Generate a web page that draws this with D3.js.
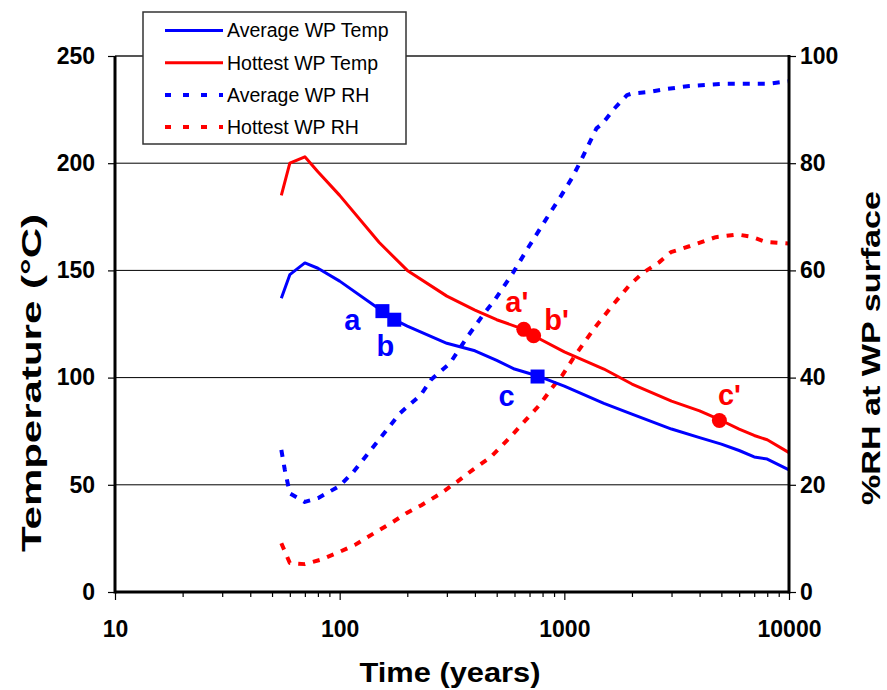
<!DOCTYPE html>
<html>
<head>
<meta charset="utf-8">
<script src="https://cdn.jsdelivr.net/npm/d3@7"></script>
<style>
  body { margin: 0; background: #fff; }
  svg { display: block; font-family: 'Liberation Sans', Arial, sans-serif; }
</style>
</head>
<body>
<div id="chart"></div>
<script>
// Series (years, degC / %RH).
const avgTempYears = [55, 60, 70, 80, 100, 150, 175, 200, 300, 400, 500, 600, 750, 1000, 1500, 2000, 3000, 4000, 5000, 6000, 7000, 8000, 10000];
const avgTemp = [137, 148, 153.5, 151, 145, 132, 127, 124, 116, 112.5, 108, 104, 101, 96, 88, 83, 76, 72, 69, 66, 63, 62, 57];

const hotTempYears = [55, 60, 70, 80, 100, 150, 200, 300, 400, 500, 660, 730, 1000, 1500, 2000, 3000, 4000, 5000, 6000, 7000, 8000, 10000];
const hotTemp = [185, 200, 203, 196, 185, 163, 150, 138, 131.5, 127, 122.5, 119.5, 112, 104, 97, 89, 84.5, 80, 76, 73, 71, 65];

const avgRhYears = [55, 57, 60, 70, 80, 100, 115, 145, 185, 230, 255, 310, 370, 440, 490, 590, 680, 860, 970, 1080, 1180, 1270, 1390, 1480, 1670, 1900, 2000, 2400, 2800, 3600, 5000, 6600, 8000, 10000];
const avgRh = [26.5, 22.8, 18.4, 16.8, 17.5, 19.8, 22.4, 27.7, 33.3, 36.8, 39.6, 42.7, 47.6, 52, 54.5, 59.5, 63.8, 70.6, 74, 77.2, 80.3, 83.1, 86.5, 87.4, 90.2, 92.7, 93, 93.3, 93.8, 94.4, 94.8, 94.8, 94.8, 95.3];

const hotRhYears = [55, 60, 70, 82, 100, 117, 140, 173, 198, 231, 282, 334, 391, 471, 566, 674, 776, 886, 982, 1107, 1360, 1640, 1945, 2230, 2640, 2980, 3600, 4720, 5900, 6760, 7900, 10000];
const hotRh = [9.1, 5.4, 5.2, 6.0, 7.5, 8.8, 10.8, 13.1, 14.7, 16.2, 18.4, 20.6, 22.8, 25.2, 28.6, 32.1, 34.9, 38.2, 40.5, 43.9, 49.2, 53.5, 57.2, 59.5, 61.5, 63.4, 64.5, 66.2, 66.7, 66.3, 65.3, 65];

// Labelled points on the temperature curves.
const avgPointYears = [155, 175, 760];
const avgPointTemp = [131, 127, 100.5];
const avgPointLabels = ['a', 'b', 'c'];

const hotPointYears = [660, 730, 4900];
const hotPointTemp = [122.5, 119.5, 80];
const hotPointLabels = ["a'", "b'", "c'"];

const seriesNames = ['Average WP Temp', 'Hottest WP Temp', 'Average WP RH', 'Hottest WP RH'];
const tempTicks = [0, 50, 100, 150, 200, 250];
const rhTicks = [0, 20, 40, 60, 80, 100];
const yearTicks = [10, 100, 1000, 10000];


const width = 887;
const height = 690;
const plot = { left: 115, right: 789, top: 56, bottom: 592 };

const BLUE = '#0000ff';
const RED = '#ff0000';

const svg = d3.select('#chart')
  .append('svg')
    .attr('width', width)
    .attr('height', height);

const x = d3.scaleLog()
  .domain([10, 10000])
  .range([plot.left, plot.right]);

const yTemp = d3.scaleLinear()
  .domain([0, 250])
  .range([plot.bottom, plot.top]);

const yRh = d3.scaleLinear()
  .domain([0, 100])
  .range([plot.bottom, plot.top]);

// Gridlines (shared by both y axes)
svg.append('g')
  .selectAll('line')
  .data(tempTicks.filter(d => d > 0 && d < 250))
  .enter()
  .append('line')
    .attr('x1', plot.left)
    .attr('x2', plot.right)
    .attr('y1', d => yTemp(d))
    .attr('y2', d => yTemp(d))
    .attr('stroke', '#000')
    .attr('stroke-width', 1);

function zipSeries(xs, ys) {
  return xs.map((t, i) => [t, ys[i]]);
}

function drawSeries(points, yScale, color, dashed) {
  const line = d3.line()
    .x(d => x(d[0]))
    .y(d => yScale(d[1]));

  svg.append('path')
    .datum(points)
    .attr('d', line)
    .attr('fill', 'none')
    .attr('stroke', color)
    .attr('stroke-width', dashed ? 4 : 3)
    .attr('stroke-linejoin', 'round')
    .attr('stroke-dasharray', dashed ? '7,8' : null);
}

drawSeries(zipSeries(avgRhYears, avgRh), yRh, BLUE, true);
drawSeries(zipSeries(hotRhYears, hotRh), yRh, RED, true);
drawSeries(zipSeries(avgTempYears, avgTemp), yTemp, BLUE, false);
drawSeries(zipSeries(hotTempYears, hotTemp), yTemp, RED, false);

// Point markers and their letters
const avgPoints = avgPointYears.map((t, i) => ({ t, v: avgPointTemp[i], label: avgPointLabels[i] }));
const hotPoints = hotPointYears.map((t, i) => ({ t, v: hotPointTemp[i], label: hotPointLabels[i] }));

svg.append('g')
  .selectAll('rect')
  .data(avgPoints)
  .enter()
  .append('rect')
    .attr('x', d => x(d.t) - 7)
    .attr('y', d => yTemp(d.v) - 7)
    .attr('width', 14)
    .attr('height', 14)
    .attr('fill', BLUE);

svg.append('g')
  .selectAll('circle')
  .data(hotPoints)
  .enter()
  .append('circle')
    .attr('cx', d => x(d.t))
    .attr('cy', d => yTemp(d.v))
    .attr('r', 7.5)
    .attr('fill', RED);

// label offsets from the marker centre: [dx, dy of baseline]
const avgLabelOffsets = [[-30, 19], [-9, 36], [-31, 29]];
const hotLabelOffsets = [[-7, -17], [23, -6], [10, -15]];

function drawPointLabels(points, offsets, color) {
  svg.append('g')
    .selectAll('text')
    .data(points)
    .enter()
    .append('text')
      .attr('x', (d, i) => x(d.t) + offsets[i][0])
      .attr('y', (d, i) => yTemp(d.v) + offsets[i][1])
      .attr('text-anchor', 'middle')
      .attr('font-size', '29px')
      .attr('font-weight', 'bold')
      .attr('fill', color)
      .text(d => d.label);
}

drawPointLabels(avgPoints, avgLabelOffsets, BLUE);
drawPointLabels(hotPoints, hotLabelOffsets, RED);

// Axes
const leftAxis = d3.axisLeft(yTemp)
  .tickValues(tempTicks)
  .tickSize(7)
  .tickPadding(13);

const rightAxis = d3.axisRight(yRh)
  .tickValues(rhTicks)
  .tickSize(7)
  .tickPadding(4);

const minorYears = [];
for (let decade = 10; decade < 10000; decade *= 10) {
  for (let k = 2; k <= 9; k++) minorYears.push(decade * k);
}

const bottomMinor = d3.axisBottom(x)
  .tickValues(minorYears)
  .tickSize(5)
  .tickFormat('');

const bottomMajor = d3.axisBottom(x)
  .tickValues(yearTicks)
  .tickSize(8)
  .tickPadding(21)
  .tickFormat(d3.format('d'));

function styleAxis(g) {
  g.select('.domain').remove();
  g.selectAll('line').attr('stroke', '#000').attr('stroke-width', 1.2);
  g.selectAll('text')
    .attr('font-size', '23px')
    .attr('font-weight', 'bold')
    .attr('font-family', "'Liberation Sans', Arial, sans-serif")
    .attr('fill', '#000');
}

svg.append('g')
  .attr('transform', `translate(${plot.left},0)`)
  .call(leftAxis)
  .call(styleAxis);

svg.append('g')
  .attr('transform', `translate(${plot.right},0)`)
  .call(rightAxis)
  .call(styleAxis);

svg.append('g')
  .attr('transform', `translate(0,${plot.bottom})`)
  .call(bottomMinor)
  .call(styleAxis);

svg.append('g')
  .attr('transform', `translate(0,${plot.bottom})`)
  .call(bottomMajor)
  .call(styleAxis);

// Plot frame
svg.append('line')
  .attr('x1', plot.left).attr('x2', plot.right)
  .attr('y1', plot.top).attr('y2', plot.top)
  .attr('stroke', '#555')
  .attr('stroke-width', 2);

svg.append('line')
  .attr('x1', plot.left).attr('x2', plot.left)
  .attr('y1', plot.top).attr('y2', plot.bottom + 1.5)
  .attr('stroke', '#000')
  .attr('stroke-width', 3);

svg.append('line')
  .attr('x1', plot.right).attr('x2', plot.right)
  .attr('y1', plot.top - 1).attr('y2', plot.bottom + 1.5)
  .attr('stroke', '#000')
  .attr('stroke-width', 3);

svg.append('line')
  .attr('x1', plot.left).attr('x2', plot.right)
  .attr('y1', plot.bottom).attr('y2', plot.bottom)
  .attr('stroke', '#000')
  .attr('stroke-width', 3);

// Axis titles
svg.append('text')
  .attr('x', (plot.left + plot.right) / 2 - 2)
  .attr('y', 682)
  .attr('text-anchor', 'middle')
  .attr('font-size', '27px')
  .attr('font-weight', 'bold')
  .attr('textLength', 181)
  .attr('lengthAdjust', 'spacingAndGlyphs')
  .text('Time (years)');

svg.append('text')
  .attr('transform', 'translate(41, 383) rotate(-90)')
  .attr('text-anchor', 'middle')
  .attr('font-size', '27px')
  .attr('font-weight', 'bold')
  .attr('textLength', 338)
  .attr('lengthAdjust', 'spacingAndGlyphs')
  .text('Temperature (°C)');

svg.append('text')
  .attr('transform', 'translate(880, 348) rotate(-90)')
  .attr('text-anchor', 'middle')
  .attr('font-size', '26px')
  .attr('font-weight', 'bold')
  .attr('textLength', 314)
  .attr('lengthAdjust', 'spacingAndGlyphs')
  .text('%RH at WP surface');

// Legend
const legend = svg.append('g');

legend.append('rect')
  .attr('x', 143)
  .attr('y', 12)
  .attr('width', 263)
  .attr('height', 132)
  .attr('fill', '#fff')
  .attr('stroke', '#333')
  .attr('stroke-width', 1.5);

const legendColors = [BLUE, RED, BLUE, RED];
const legendDashed = [false, false, true, true];

const rows = legend.selectAll('.row')
  .data(seriesNames)
  .enter()
  .append('g')
    .attr('class', 'row')
    .attr('transform', (d, i) => `translate(0, ${30.5 + i * 32.2})`);

rows.append('line')
  .attr('x1', 165)
  .attr('x2', 223)
  .attr('stroke', (d, i) => legendColors[i])
  .attr('stroke-width', (d, i) => legendDashed[i] ? 4 : 3)
  .attr('stroke-dasharray', (d, i) => legendDashed[i] ? '6,12' : null);

rows.append('text')
  .attr('x', 227)
  .attr('y', 6.8)
  .attr('font-size', '19.5px')
  .attr('fill', '#000')
  .text(d => d);
</script>
</body>
</html>
